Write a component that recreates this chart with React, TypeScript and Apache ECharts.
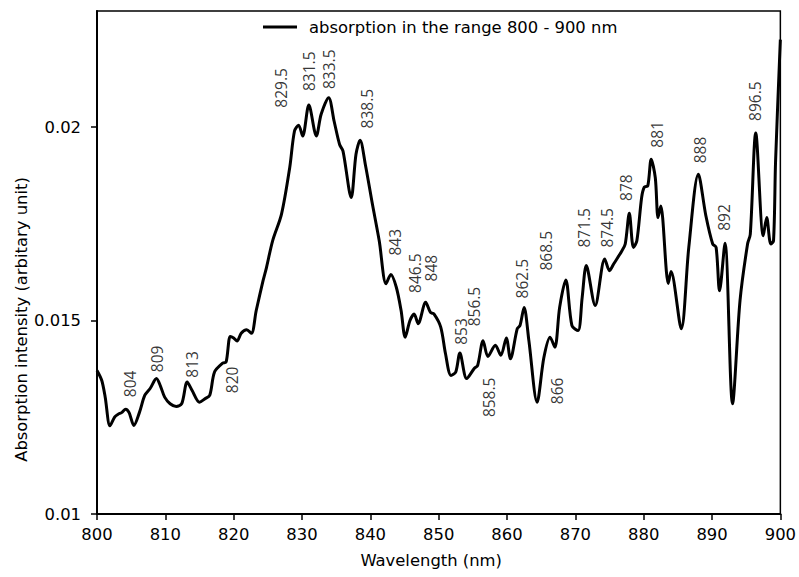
import React, { useEffect, useRef } from "react";
import * as echarts from "echarts";

const wavelengths = [
  800.0, 800.7, 801.2, 801.9, 802.6, 803.1, 803.6, 804.2, 804.7, 805.4, 806.2, 807.0, 807.8, 808.7, 809.3, 809.9,
  810.7, 811.6, 812.4, 813.2, 813.9, 815.0, 815.8, 816.5, 817.2, 818.4, 818.9, 819.5, 820.0, 820.5, 821.1, 821.9,
  822.6, 823.3, 824.3, 824.8, 825.7, 827.0, 828.2, 828.9, 829.5, 830.1, 831.0, 832.1, 832.8, 833.9, 834.7, 835.5,
  836.0, 837.2, 837.9, 838.5, 839.3, 840.3, 841.3, 842.3, 843.0, 843.8, 844.5, 845.1, 845.8, 846.4, 847.0, 848.1,
  848.8, 849.3, 850.3, 851.0, 851.8, 852.5, 853.1, 854.1, 855.2, 855.7, 856.5, 857.2, 858.3, 859.1, 859.9, 860.5,
  861.5, 861.9, 862.5, 863.2, 864.4, 865.4, 866.3, 867.0, 867.7, 868.6, 869.5, 870.4, 871.0, 871.6, 872.9, 874.3,
  875.0, 875.6, 876.8, 877.3, 877.9, 878.5, 879.0, 879.7, 880.1, 880.6, 881.1, 881.7, 882.1, 882.5, 883.6, 884.0,
  885.5, 886.6, 888.0, 889.1, 890.1, 890.6, 891.1, 891.9, 893.0, 894.1, 895.2, 895.6, 896.4, 897.5, 898.0, 898.6,
  899.0, 899.3, 900.0,
];

const absorption = [
  0.01371, 0.01345, 0.01302, 0.01228, 0.01251, 0.01258, 0.01262, 0.01271, 0.01262, 0.01229, 0.01262, 0.01307, 0.01325, 0.0135, 0.0133, 0.01302,
  0.01285, 0.01278, 0.01285, 0.01341, 0.0132, 0.01289, 0.01298, 0.01307, 0.01367, 0.0139, 0.01393, 0.01459, 0.01455, 0.01447, 0.01467, 0.01476,
  0.01467, 0.01526, 0.01603, 0.01637, 0.01706, 0.01775, 0.01895, 0.0199, 0.02005, 0.01977, 0.02057, 0.01977, 0.02033, 0.02076, 0.02015, 0.01955,
  0.01938, 0.01818, 0.0193, 0.01966, 0.019, 0.01801, 0.01706, 0.01595, 0.01619, 0.01586, 0.01526, 0.01457, 0.015, 0.01517, 0.01492, 0.01547,
  0.01521, 0.01517, 0.01483, 0.01414, 0.01358, 0.01367, 0.01416, 0.0135, 0.01376, 0.01384, 0.01448, 0.01407, 0.01436, 0.0141, 0.01455, 0.01401,
  0.01479, 0.01487, 0.01534, 0.01448, 0.01289, 0.01405, 0.01457, 0.01431, 0.01534, 0.01605, 0.01487, 0.01474, 0.0156, 0.01642, 0.01539, 0.01659,
  0.01629, 0.01646, 0.0168, 0.01698, 0.01777, 0.01689, 0.01706, 0.01818, 0.01845, 0.01848, 0.01917, 0.01869, 0.01766, 0.01796, 0.01596, 0.01627,
  0.01479, 0.01689, 0.01878, 0.01771, 0.01698, 0.01689, 0.01577, 0.017, 0.01285, 0.01552, 0.01698, 0.01723, 0.01985, 0.01719, 0.01766, 0.01698,
  0.01706, 0.01912, 0.02226,
];

// Peak annotation labels: text and the data position of the label's centre
const peakLabels = ["804", "809", "813", "820", "829.5", "831.5", "833.5", "838.5", "843", "846.5", "848", "853", "856.5", "858.5", "862.5", "866", "868.5", "871.5", "874.5", "878", "881", "888", "892", "896.5"];
const peakLabelX = [804.82, 808.72, 813.97, 819.71, 826.96, 831.09, 833.91, 839.52, 843.65, 846.47, 848.91, 853.24, 855.18, 857.37, 862.23, 867.34, 865.65, 871.24, 874.7, 877.42, 881.94, 888.28, 891.68, 896.3];
const peakLabelY = [0.013363, 0.014008, 0.013866, 0.013466, 0.021013, 0.021443, 0.021495, 0.020477, 0.017023, 0.016224, 0.016353, 0.014716, 0.015361, 0.013015, 0.016082, 0.013183, 0.016804, 0.017397, 0.017397, 0.018436, 0.019812, 0.019407, 0.017663, 0.02067];

const yTicks = [0.01, 0.015, 0.02];
const seriesName = "absorption in the range 800 - 900 nm";

export default function App() {
  const ref = useRef<HTMLDivElement>(null);
  useEffect(() => {
    if (!ref.current) return;
    const chart = echarts.init(ref.current, null, { renderer: "svg" });
    const font = "DejaVu Sans";
    chart.setOption({
      animation: false,
      backgroundColor: "#fff",
      grid: { left: 97, right: 17, top: 11, bottom: 63, show: true, borderColor: "#000", borderWidth: 1.5, backgroundColor: "transparent" },
      legend: {
        data: [{ name: seriesName, icon: "rect" }],
        left: 263,
        top: 19,
        padding: 0,
        itemWidth: 34,
        itemHeight: 3,
        itemStyle: { color: "#000" },
        textStyle: { fontFamily: font, fontSize: 16.4, color: "#000", padding: [0, 0, 0, 7] },
      },
      xAxis: {
        type: "value",
        min: 800,
        max: 900,
        interval: 10,
        name: "Wavelength (nm)",
        nameLocation: "middle",
        nameGap: 38,
        nameTextStyle: { fontFamily: font, fontSize: 16.4, color: "#000", padding: [0, 15, 0, 0] },
        axisLine: { lineStyle: { color: "#000", width: 2 } },
        axisTick: { show: true, inside: false, length: 6, lineStyle: { color: "#000", width: 1.5 } },
        axisLabel: { fontFamily: font, fontSize: 16.4, color: "#000", margin: 12 },
        splitLine: { show: false },
      },
      yAxis: {
        type: "value",
        min: 0.01,
        max: 0.023,
        interval: 0.005,
        axisLine: { show: true, lineStyle: { color: "#000", width: 2 } },
        axisTick: { show: true, inside: false, length: 6, customValues: yTicks, lineStyle: { color: "#000", width: 1.5 } },
        axisLabel: { fontFamily: font, fontSize: 16.4, color: "#000", margin: 16, customValues: yTicks, formatter: (v: number) => String(+v.toFixed(3)) },
        splitLine: { show: false },
      },
      graphic: [
        {
          type: "text",
          x: 21.5,
          y: 319.5,
          rotation: Math.PI / 2,
          style: { text: "Absorption intensity (arbitary unit)", fontFamily: font, fontSize: 16.4, fill: "#000", align: "center", verticalAlign: "middle" },
        },
      ],
      series: [
        {
          name: seriesName,
          type: "line",
          data: wavelengths.map((w, i) => [w, absorption[i]]),
          showSymbol: false,
          symbol: "none",
          smooth: 0.3,
          lineStyle: { color: "#000", width: 3 },
          itemStyle: { color: "#000" },
          z: 3,
        },
        {
          name: "peaks",
          type: "scatter",
          data: peakLabels.map((t, i) => ({ name: t, value: [peakLabelX[i], peakLabelY[i]] })),
          symbolSize: 1,
          itemStyle: { color: "rgba(0,0,0,0)" },
          silent: true,
          label: {
            show: true,
            position: "inside",
            rotate: 90,
            formatter: "{b}",
            fontFamily: "Open Sans",
            fontSize: 15.5,
            color: "#000",
          },
          z: 4,
        },
      ],
    });
    return () => chart.dispose();
  }, []);
  return <div ref={ref} style={{ position: "fixed", left: 0, top: 0, width: 799, height: 577 }} />;
}
